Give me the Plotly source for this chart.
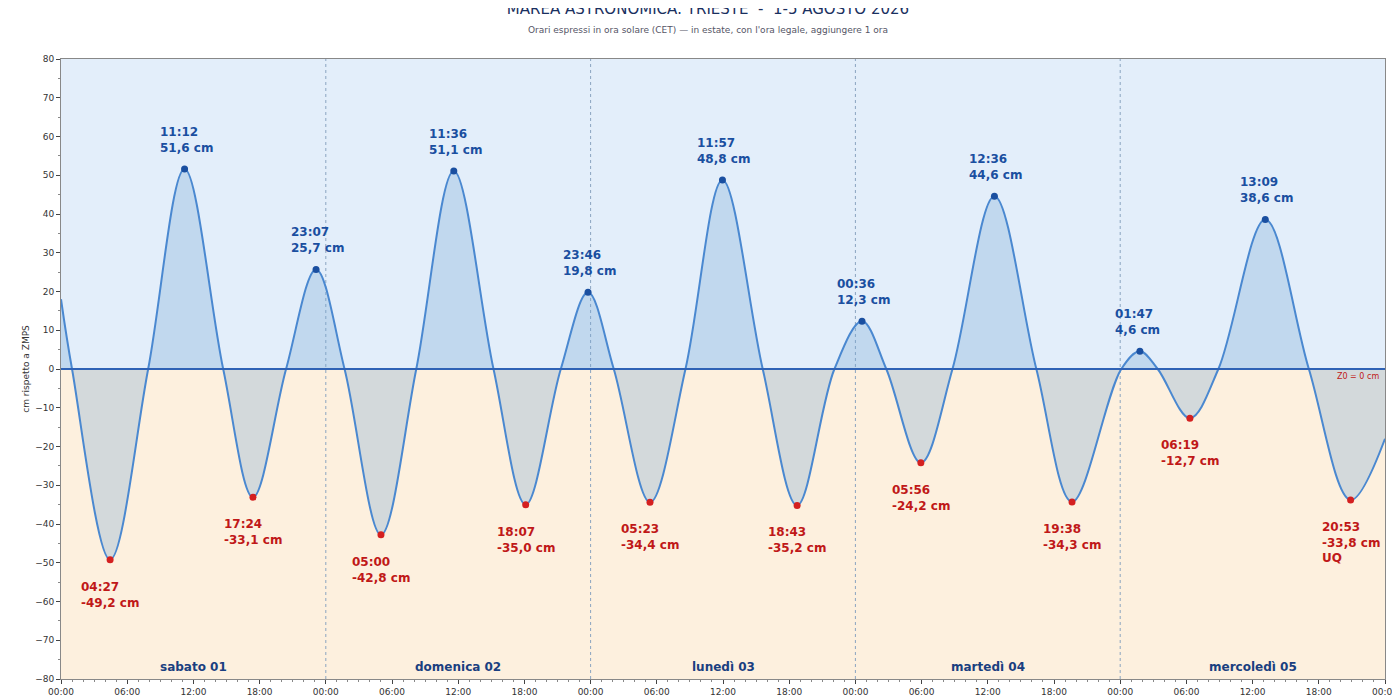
import plotly.graph_objects as go

# tide curve points: start, extremes and zero crossings
times = ["2026-08-01 00:00", "2026-08-01 01:00", "2026-08-01 04:27", "2026-08-01 07:54",
         "2026-08-01 11:12", "2026-08-01 14:42", "2026-08-01 17:24", "2026-08-01 20:24",
         "2026-08-01 23:07", "2026-08-02 01:42", "2026-08-02 05:00", "2026-08-02 08:12",
         "2026-08-02 11:36", "2026-08-02 15:12", "2026-08-02 18:07", "2026-08-02 21:18",
         "2026-08-02 23:46", "2026-08-03 02:06", "2026-08-03 05:23", "2026-08-03 08:36",
         "2026-08-03 11:57", "2026-08-03 15:36", "2026-08-03 18:43", "2026-08-03 22:06",
         "2026-08-04 00:36", "2026-08-04 02:48", "2026-08-04 05:56", "2026-08-04 08:48",
         "2026-08-04 12:36", "2026-08-04 16:24", "2026-08-04 19:38", "2026-08-05 00:06",
         "2026-08-05 01:47", "2026-08-05 03:24", "2026-08-05 06:19", "2026-08-05 08:54",
         "2026-08-05 13:09", "2026-08-05 17:06", "2026-08-05 20:53", "2026-08-06 00:00"]
levels = [18, 0, -49.2, 0, 51.6, 0, -33.1, 0, 25.7, 0, -42.8, 0, 51.1, 0, -35.0, 0,
          19.8, 0, -34.4, 0, 48.8, 0, -35.2, 0, 12.3, 0, -24.2, 0, 44.6, 0, -34.3, 0,
          4.6, 0, -12.7, 0, 38.6, 0, -33.8, -18]

high_times = ["2026-08-01 11:12", "2026-08-01 23:07", "2026-08-02 11:36", "2026-08-02 23:46",
              "2026-08-03 11:57", "2026-08-04 00:36", "2026-08-04 12:36", "2026-08-05 01:47",
              "2026-08-05 13:09"]
high_vals = [51.6, 25.7, 51.1, 19.8, 48.8, 12.3, 44.6, 4.6, 38.6]
low_times = ["2026-08-01 04:27", "2026-08-01 17:24", "2026-08-02 05:00", "2026-08-02 18:07",
             "2026-08-03 05:23", "2026-08-03 18:43", "2026-08-04 05:56", "2026-08-04 19:38",
             "2026-08-05 06:19", "2026-08-05 20:53"]
low_vals = [-49.2, -33.1, -42.8, -35.0, -34.4, -35.2, -24.2, -34.3, -12.7, -33.8]

day_names = ["sabato 01", "domenica 02", "lunedì 03", "martedì 04", "mercoledì 05"]
day_noons = ["2026-08-01 12:00", "2026-08-02 12:00", "2026-08-03 12:00",
             "2026-08-04 12:00", "2026-08-05 12:00"]
midnights = ["2026-08-02", "2026-08-03", "2026-08-04", "2026-08-05"]

X0, X1 = "2026-08-01 00:00", "2026-08-06 00:00"
font = "DejaVu Sans"

fig = go.Figure()
fig.add_trace(go.Scatter(x=times, y=levels, mode="lines", line=dict(color="#4a88d0", width=2, shape="spline", smoothing=1.0),
                         fill="tozeroy", fillcolor="rgba(115,165,213,0.3)", hoverinfo="skip"))
fig.add_trace(go.Scatter(x=high_times, y=high_vals, mode="markers", marker=dict(color="#1a4fa0", size=7)))
fig.add_trace(go.Scatter(x=low_times, y=low_vals, mode="markers", marker=dict(color="#d42020", size=7)))

# background bands
fig.add_shape(type="rect", xref="paper", x0=0, x1=1, y0=0, y1=80, fillcolor="#e3eefa", line_width=0, layer="below")
fig.add_shape(type="rect", xref="paper", x0=0, x1=1, y0=-80, y1=0, fillcolor="#fdf0de", line_width=0, layer="below")
fig.add_shape(type="line", xref="paper", x0=0, x1=1, y0=0, y1=0, line=dict(color="#2f62b5", width=2))
for m in midnights:
    fig.add_shape(type="line", x0=m, x1=m, y0=-80, y1=80, line=dict(color="#8aa4c0", width=1, dash="dot"), layer="below")

for t, v in zip(high_times, high_vals):
    fig.add_annotation(x=t, y=v, text="<b>%s<br>%s cm</b>" % (t[11:], ("%.1f" % v).replace(".", ",")),
                       showarrow=False, xanchor="left", yanchor="bottom", xshift=-27, yshift=12, align="left",
                       font=dict(family=font, size=12, color="#1a4fa0"))
for i, (t, v) in enumerate(zip(low_times, low_vals)):
    txt = "%s<br>%s cm" % (t[11:], ("%.1f" % v).replace(".", ","))
    if i == len(low_times) - 1:
        txt += "<br>UQ"
    fig.add_annotation(x=t, y=v, text="<b>%s</b>" % txt, showarrow=False, xanchor="left", yanchor="top",
                       xshift=-31, yshift=-18, align="left", font=dict(family=font, size=12, color="#c01818"))
for t, d in zip(day_noons, day_names):
    fig.add_annotation(x=t, y=-77, text="<b>%s</b>" % d, showarrow=False, font=dict(family=font, size=12, color="#1a3f80"))
fig.add_annotation(xref="paper", x=0.997, y=-2, text="Z0 = 0 cm", showarrow=False, xanchor="right",
                   font=dict(family=font, size=8, color="#c01818"))

fig.update_layout(
    width=1400, height=700, showlegend=False, plot_bgcolor="white", paper_bgcolor="white",
    margin=dict(l=53, r=23, t=51, b=29, autoexpand=False),
    title=dict(text="MAREA ASTRONOMICA: TRIESTE  -  1-5 AGOSTO 2026<br><span style='font-size:9px;color:#556'>Orari espressi in ora solare (CET) — in estate, con l'ora legale, aggiungere 1 ora</span>",
               x=0.5, y=0.992, yanchor="top", font=dict(family=font, size=15, color="#1a3060")),
    font=dict(family=font, size=9, color="#333"),
)
fig.update_xaxes(range=[X0, X1], dtick=6 * 3600 * 1000, tick0=X0, tickformat="%H:%M", showgrid=False,
                 ticks="outside", ticklen=4, showline=True, linecolor="#888", mirror=True, automargin=False,
                 minor=dict(dtick=3600 * 1000, ticks="outside", ticklen=2, tickcolor="#888"))
fig.update_yaxes(range=[-80, 80], dtick=10, showgrid=False, zeroline=False, ticks="outside", ticklen=4,
                 showline=True, linecolor="#888", mirror=True, automargin=False,
                 minor=dict(dtick=5, ticks="outside", ticklen=2, tickcolor="#888"),
                 title=dict(text="cm rispetto a ZMPS", font=dict(size=9), standoff=4))
fig.write_html("out.html")
